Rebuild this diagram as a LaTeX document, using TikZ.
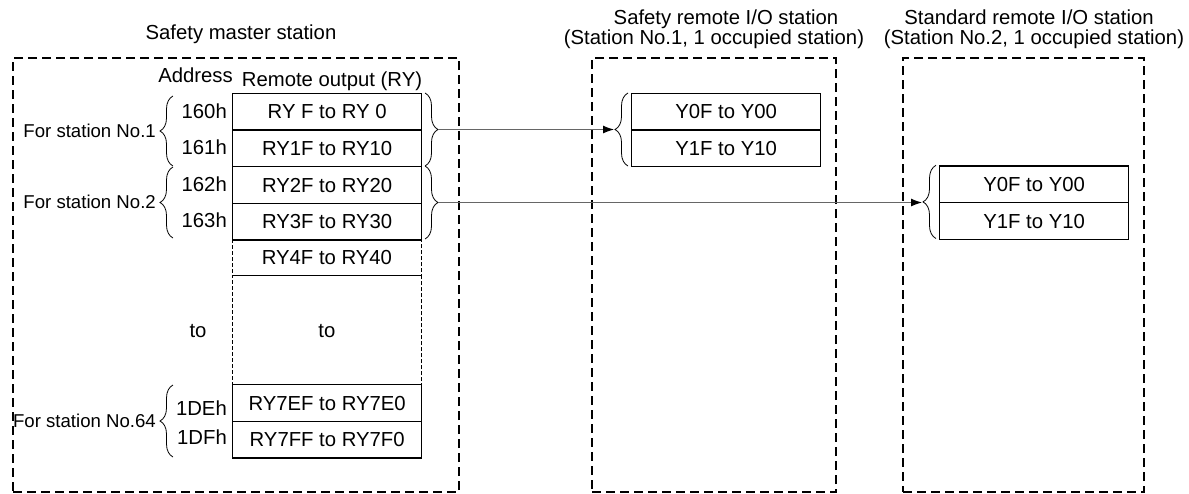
\documentclass[tikz,border=0pt]{standalone}
\usepackage{fontspec}
\setmainfont{Liberation Sans}
\usetikzlibrary{decorations.pathreplacing,arrows.meta}
\begin{document}
\begin{tikzpicture}[x=1pt,y=-1pt,
  every node/.style={font=\fontsize{20.3}{22}\selectfont, inner sep=0pt},
  station/.style={draw=black, line width=2.4pt, dash pattern=on 9pt off 5pt, anchor=north west, minimum height=434pt},
  title/.style={anchor=base},
  cell/.style={draw, line width=1.3pt, minimum width=189pt, minimum height=36.6pt, anchor=north west, text height=14.3pt, text depth=0pt},
  dcell/.style={draw, line width=0.9pt, dash pattern=on 4pt off 2pt, minimum width=189pt, anchor=north west, text height=14.3pt, text depth=0pt},
  brace/.style={decorate, decoration={brace, amplitude=13pt}, line width=0.8pt},
  addr/.style={anchor=east},
  sidelabel/.style={anchor=east, font=\fontsize{18.6}{20}\selectfont},
  conn/.style={draw=black!60, line width=1pt, -{Latex[length=11pt,width=8pt,color=black]}}
]
\useasboundingbox (0,0) rectangle (1189,493);

% station frames
\node[station, minimum width=446pt] (master) at (12,57) {};
\node[station, minimum width=244pt] (safety) at (591,57) {};
\node[station, minimum width=241pt] (standard) at (902,57) {};

% titles
\node (tmaster) at (241,34) {Safety master station};
\node[title] (tsafety1) at (726,24.3) {Safety remote I/O station};
\node[title] (tsafety2) at (714,44) {(Station No.1, 1 occupied station)};
\node[title] (tstd1) at (1029,24.3) {Standard remote I/O station};
\node[title] (tstd2) at (1034,44) {(Station No.2, 1 occupied station)};

% headers
\node[anchor=east] (haddr) at (233,75) {Address};
\node (hro) at (332,81.5) {Remote output (RY)};

% register cells (dashed first)
\node[dcell, minimum height=36pt] (ry4) at (232,239) {RY4F to RY40};
\node[dcell, minimum height=109pt] (rydots) at (232,275) {to};
\node[cell] (ry0) at (232,92.7) {RY F to RY 0};
\node[cell] (ry1) at (232,129.3) {RY1F to RY10};
\node[cell] (ry2) at (232,166) {RY2F to RY20};
\node[cell] (ry3) at (232,202.6) {RY3F to RY30};
\node[cell] (ry7e) at (232,384) {RY7EF to RY7E0};
\node[cell] (ry7f) at (232,420.6) {RY7FF to RY7F0};

% addresses
\node[addr] (a160) at (227,111.7) {160h};
\node[addr] (a161) at (227,147.5) {161h};
\node[addr] (a162) at (227,184) {162h};
\node[addr] (a163) at (227,220) {163h};
\node[addr] (a1de) at (227,408) {1DEh};
\node[addr] (a1df) at (227,437) {1DFh};
\node (tol) at (198,331) {to};

% left braces and labels
\draw[brace] (173,166) -- (173,96);
\draw[brace] (173,238) -- (173,167);
\draw[brace] (173,457) -- (173,385);
\node[sidelabel] (fs1) at (156,131) {For station No.1};
\node[sidelabel] (fs2) at (156,202) {For station No.2};
\node[sidelabel] (fs64) at (156,421) {For station No.64};

% right braces of master
\draw[brace] (425,93) -- (425,166);
\draw[brace] (425,166) -- (425,239);
\coordinate (m1) at (438,129.5);
\coordinate (m2) at (438,202.5);

% safety remote I/O cells
\node[cell] (sy0) at (631,92.7) {Y0F to Y00};
\node[cell] (sy1) at (631,129.3) {Y1F to Y10};
\draw[brace] (628,166) -- (628,93);
\coordinate (s1) at (614,129.5);

% standard remote I/O cells
\node[cell] (ty0) at (939,165.3) {Y0F to Y00};
\node[cell] (ty1) at (939,201.9) {Y1F to Y10};
\draw[brace] (936,238.5) -- (936,165.3);
\coordinate (t1) at (922,202.5);

% connectors
\draw[conn] (m1) -- (s1);
\draw[conn] (m2) -- (t1);
\end{tikzpicture}
\end{document}
